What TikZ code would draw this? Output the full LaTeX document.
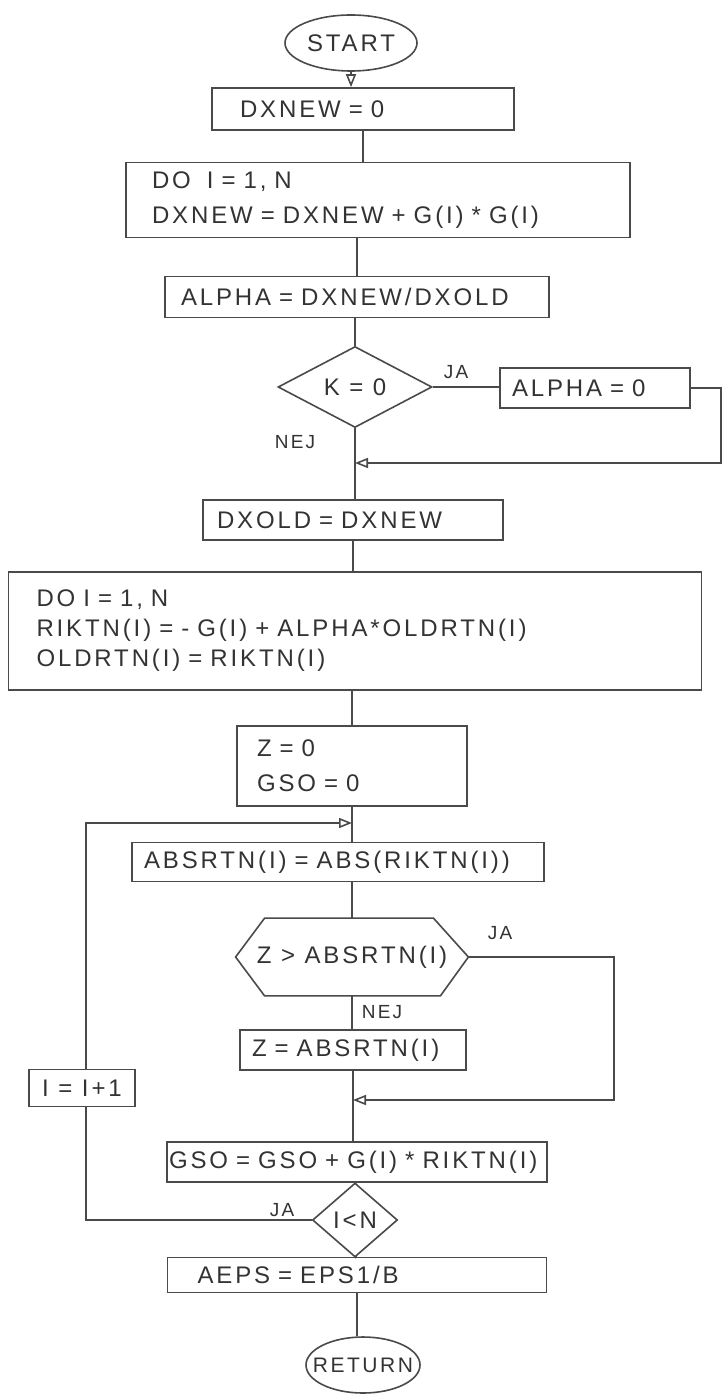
\documentclass[tikz,border=0pt]{standalone}
\usepackage{fontspec}
\setmainfont[LetterSpace=12]{Liberation Sans}
\usetikzlibrary{arrows.meta,shapes.geometric}
\definecolor{ink}{HTML}{4A4A4A}
\definecolor{txt}{HTML}{333333}
\begin{document}
\begin{tikzpicture}[x=0.5pt,y=-0.5pt,
  every node/.style={text=txt, font=\fontsize{12}{14}\selectfont},
  ln/.style={draw=ink, line width=0.8pt},
  arr/.style={ln, -{Triangle[open,length=6.5pt,width=5pt]}},
  box/.style={draw=ink, line width=0.8pt, rectangle, align=left, inner ysep=0pt},
  dia/.style={draw=ink, line width=0.8pt, diamond, inner sep=0pt, aspect=1.9},
  term/.style={draw=ink, line width=0.8pt, ellipse, inner sep=0pt},
  lbl/.style={font=\fontsize{9.5}{10}\selectfont}]
\fill[white] (0,0) rectangle (724,1395);
\useasboundingbox (0,0) rectangle (724,1395);

% nodes
\node[term, minimum width=66pt, minimum height=28pt] (start) at (351,43) {START};
\node[box, text width=123pt, inner xsep=14pt, minimum height=21pt] (dxnew0) at (363,109) {DXNEW = 0};
\node[box, text width=226pt, inner xsep=13pt, minimum height=37.5pt, font=\fontsize{12}{17.5}\selectfont] (do1) at (378,200) {DO\ \ I = 1, N\\DXNEW = DXNEW + G(I) * G(I)};
\node[box, text width=176pt, inner xsep=8pt, minimum height=20.5pt] (alpha1) at (357,297) {ALPHA = DXNEW/DXOLD};
\node[dia, minimum width=77pt, minimum height=40.5pt] (k0) at (355,387) {K = 0};
\node[box, text width=83pt, inner xsep=6pt, minimum height=20pt] (alpha0) at (595,388) {ALPHA = 0};
\node[lbl] (ja1) at (456,372) {JA};
\node[lbl] (nej1) at (295,442) {NEJ};
\node[box, text width=136pt, inner xsep=7pt, minimum height=20pt] (dxold) at (353,520) {DXOLD = DXNEW};
\node[box, text width=318.5pt, inner xsep=14pt, minimum height=59pt, font=\fontsize{12}{15}\selectfont] (rik) at (355,631) {DO I = 1, N\\RIKTN(I) = - G(I) + ALPHA*OLDRTN(I)\\OLDRTN(I) = RIKTN(I)};
\node[box, text width=95pt, inner xsep=10pt, minimum height=40pt, font=\fontsize{12}{17.5}\selectfont] (zgso) at (352,766) {Z = 0\\GSO = 0};
\node[box, text width=194pt, inner xsep=6pt, minimum height=19.5pt] (absrtn) at (338,862) {ABSRTN(I) = ABS(RIKTN(I))};
\node[inner sep=0pt, minimum width=116pt, minimum height=38.5pt] (hex) at (352,957) {Z > ABSRTN(I)};
\node[lbl] (ja2) at (500,933) {JA};
\node[lbl] (nej2) at (382,1012) {NEJ};
\node[box, text width=101pt, inner xsep=6pt, minimum height=20pt] (zabs) at (353,1050) {Z = ABSRTN(I)};
\node[box, align=center, minimum width=53pt, minimum height=18.5pt] (iinc) at (82,1088) {I = I+1};
\node[box, text width=188pt, inner xsep=1pt, minimum height=20pt] (gso) at (357,1162) {GSO = GSO + G(I) * RIKTN(I)};
\node[dia, aspect=1.1, minimum width=42.5pt, minimum height=37pt] (iltn) at (355,1220) {I<N};
\node[lbl] (ja3) at (282,1210) {JA};
\node[box, text width=159.5pt, inner xsep=15pt, minimum height=17.5pt] (aeps) at (357,1275) {AEPS = EPS1/B};
\node[term, inner xsep=-7pt, minimum width=57pt, minimum height=28pt, font=\fontsize{10.5}{13}\selectfont] (ret) at (363,1365) {RETURN};

% hexagon outline
\draw[ln] (hex.west) -- ([xshift=14.5pt]hex.north west) -- ([xshift=-17.5pt]hex.north east)
  -- (hex.east) -- ([xshift=-14pt]hex.south east) -- ([xshift=14.5pt]hex.south west) -- cycle;

% helper coordinates
\coordinate (c1) at (721,388);
\coordinate (c2) at (721,463);
\coordinate (m1) at (355,463);
\coordinate (c3) at (614,957);
\coordinate (c4) at (614,1100);
\coordinate (m2) at (353,1100);
\coordinate (c5) at (86,1220);
\coordinate (c6) at (86,823);
\coordinate (m3) at (352,823);

% connectors
\draw[arr] (start.south) -- (start.south |- dxnew0.north);
\draw[ln] (dxnew0.south) -- (dxnew0.south |- do1.north);
\draw[ln] (alpha1.north |- do1.south) -- (alpha1.north);
\draw[ln] (k0.north |- alpha1.south) -- (k0.north);
\draw[ln] (k0.east) -- (k0.east -| alpha0.west);
\draw[arr] (alpha0.east) -- (c1) -- (c2) -- (m1);
\draw[ln] (k0.south) -- (k0.south |- dxold.north);
\draw[ln] (dxold.south) -- (dxold.south |- rik.north);
\draw[ln] (zgso.north |- rik.south) -- (zgso.north);
\draw[ln] (zgso.south) -- (zgso.south |- absrtn.north);
\draw[ln] (hex.north |- absrtn.south) -- (hex.north);
\draw[ln] (hex.south) -- (hex.south |- zabs.north);
\draw[arr] (hex.east) -- (c3) -- (c4) -- (m2);
\draw[ln] (zabs.south) -- (zabs.south |- gso.north);
\draw[ln] (gso.south) -- (iltn.north);
\draw[ln] (iltn.south) -- (aeps.north);
\draw[ln] (aeps.south) -- (aeps.south |- ret.north);
\draw[ln] (iltn.west) -- (c5) -- (c5 |- iinc.south);
\draw[arr] (c6 |- iinc.north) -- (c6) -- (m3);
\end{tikzpicture}
\end{document}
